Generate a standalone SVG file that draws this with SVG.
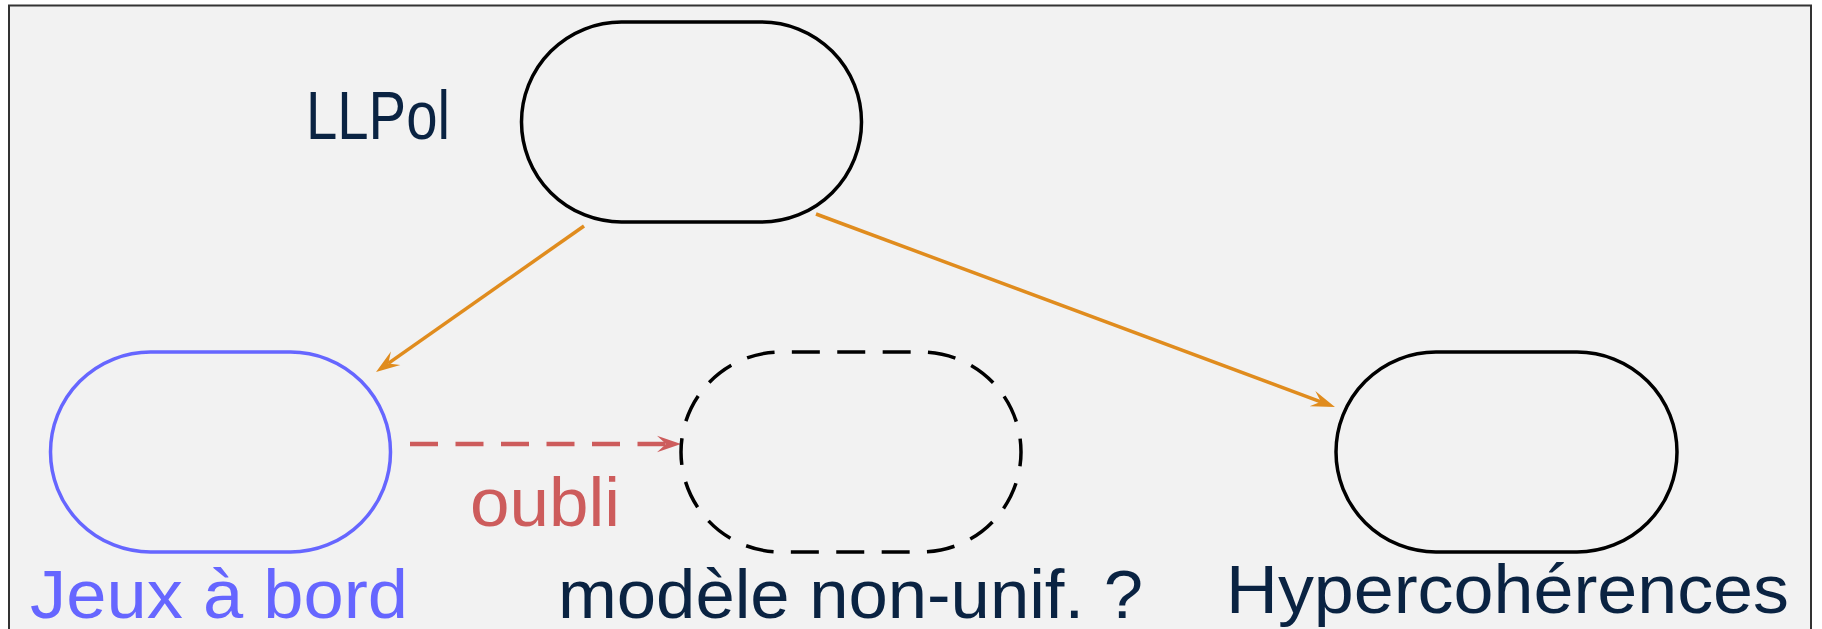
<svg xmlns="http://www.w3.org/2000/svg" width="1822" height="629" viewBox="0 0 1822 629">
  <style>
    .node { fill: none; stroke: #000; stroke-width: 3.5; }
    .lbl { font-family: "Liberation Sans", Arial, sans-serif; font-size: 68px; fill: #0a2342; }
    .orange { fill: none; stroke: #e08c1e; stroke-width: 3.5; }
    .red { fill: none; stroke: #cd5c5c; stroke-width: 4.5; stroke-dasharray: 28 17.5; }
  </style>
  <defs>
    <marker id="headO" markerUnits="userSpaceOnUse" markerWidth="26" markerHeight="20" viewBox="0 -10 26 20" refX="9" refY="0" orient="auto">
      <path d="M24,0 L0,-8.2 L9,0 L0,8.2 Z" fill="#e08c1e"/>
    </marker>
    <marker id="headR" markerUnits="userSpaceOnUse" markerWidth="26" markerHeight="20" viewBox="0 -10 26 20" refX="9" refY="0" orient="auto">
      <path d="M24,0 L0,-8.2 L9,0 L0,8.2 Z" fill="#cd5c5c"/>
    </marker>
  </defs>
  <rect width="1822" height="629" fill="#ffffff"/>
  <rect x="9" y="5.5" width="1802" height="700" fill="#f2f2f2" stroke="#333" stroke-width="2"/>

  <g id="connectors">
    <line class="orange" x1="584" y1="226" x2="388.3" y2="363.4" marker-end="url(#headO)"/>
    <line class="orange" x1="816" y1="214" x2="1320.9" y2="401.8" marker-end="url(#headO)"/>
    <line class="red" x1="410" y1="444" x2="666" y2="444" marker-end="url(#headR)"/>
  </g>

  <g id="node-llpol">
    <rect class="node" x="521.5" y="22" width="340" height="200" rx="100" ry="100"/>
    <text class="lbl" x="306" y="139" textLength="144" lengthAdjust="spacingAndGlyphs">LLPol</text>
  </g>

  <g id="node-jeux">
    <rect class="node" style="stroke:#6666ff" x="50.5" y="352" width="340" height="200" rx="100" ry="100"/>
    <text class="lbl" style="fill:#6666ff" x="30" y="618" textLength="378" lengthAdjust="spacingAndGlyphs">Jeux à bord</text>
  </g>

  <g id="label-oubli">
    <text class="lbl" style="fill:#cd5c5c" x="470" y="526" textLength="150" lengthAdjust="spacingAndGlyphs">oubli</text>
  </g>

  <g id="node-modele">
    <path class="node" stroke-dasharray="28 17.415" stroke-dashoffset="14" d="M681,452 A100,100 0 0 1 781,352 L921,352 A100,100 0 0 1 921,552 L781,552 A100,100 0 0 1 681,452 Z"/>
    <text class="lbl" x="558" y="618" textLength="585" lengthAdjust="spacingAndGlyphs">modèle non-unif. ?</text>
  </g>

  <g id="node-hyper">
    <rect class="node" x="1336" y="352" width="341" height="200" rx="100" ry="100"/>
    <text class="lbl" x="1226" y="613" textLength="563" lengthAdjust="spacingAndGlyphs">Hypercohérences</text>
  </g>
</svg>
